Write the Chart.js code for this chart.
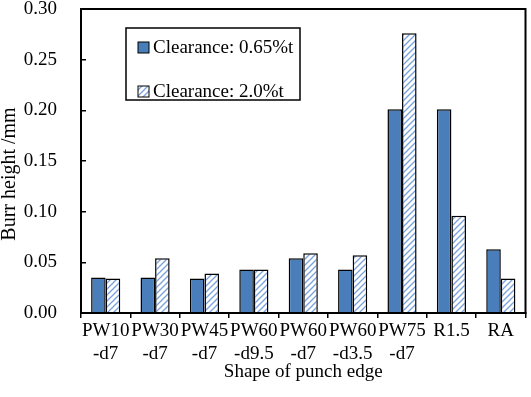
<!DOCTYPE html>
<html>
<head>
<meta charset="utf-8">
<script src="https://cdn.jsdelivr.net/npm/chart.js@4.4.1/dist/chart.umd.min.js"></script>
<style>
  html, body { margin: 0; padding: 0; background: #fff; }
  #wrap { width: 531px; height: 397px; }
</style>
</head>
<body>
<div id="wrap"><canvas id="burrChart" width="531" height="397"></canvas></div>
<script>
// Dữ liệu
const shapes = [
    ['PW10', '-d7'], ['PW30', '-d7'], ['PW45', '-d7'], ['PW60', '-d9.5'],
    ['PW60', '-d7'], ['PW60', '-d3.5'], ['PW75', '-d7'], 'R1.5', 'RA'
];
const clearance065 = [0.035, 0.035, 0.034, 0.043, 0.054, 0.043, 0.201, 0.201, 0.063];
const clearance20 = [0.034, 0.054, 0.039, 0.043, 0.059, 0.057, 0.276, 0.096, 0.034];
const seriesNames = ['Clearance: 0.65%t', 'Clearance: 2.0%t'];
const yTicks = [0, 0.05, 0.10, 0.15, 0.20, 0.25, 0.30];
const yTitle = 'Burr height /mm';
const xTitle = 'Shape of punch edge';

const FONT = 'Liberation Serif, Times New Roman, serif';

// Mẫu gạch chéo cho cột thứ hai
function makeHatch() {
    const c = document.createElement('canvas');
    c.width = 6; c.height = 6;
    const g = c.getContext('2d');
    g.fillStyle = '#ffffff';
    g.fillRect(0, 0, 6, 6);
    g.strokeStyle = '#78a0dc';
    g.lineWidth = 1.3;
    g.beginPath();
    g.moveTo(0, 6); g.lineTo(6, 0);
    g.moveTo(-1, 1); g.lineTo(1, -1);
    g.moveTo(5, 7); g.lineTo(7, 5);
    g.stroke();
    return g.createPattern(c, 'repeat');
}
const hatch = makeHatch();

// Khung bao, tiêu đề trục y và chú thích vẽ tay
const framePlugin = {
    id: 'frame',
    afterDraw(chart) {
        const { ctx, chartArea: a } = chart;
        ctx.save();
        ctx.strokeStyle = '#000';
        ctx.lineWidth = 2;
        ctx.strokeRect(a.left, a.top, a.right - a.left, a.bottom - a.top);

        // tiêu đề trục y
        ctx.save();
        ctx.translate(15, 174);
        ctx.rotate(-Math.PI / 2);
        ctx.font = '20px ' + FONT;
        ctx.fillStyle = '#000';
        ctx.textAlign = 'center';
        ctx.textBaseline = 'alphabetic';
        ctx.fillText(yTitle, 0, 0);
        ctx.restore();

        // hộp chú thích
        const bx = 126, by = 28, bw = 174, bh = 72;
        ctx.fillStyle = '#fff';
        ctx.fillRect(bx, by, bw, bh);
        ctx.lineWidth = 1.5;
        ctx.strokeRect(bx, by, bw, bh);
        ctx.font = '19px ' + FONT;
        ctx.textBaseline = 'middle';
        const rows = [47, 91];
        chart.data.datasets.forEach((ds, i) => {
            ctx.fillStyle = ds.backgroundColor;
            ctx.fillRect(138, rows[i] - 5, 11, 11);
            ctx.lineWidth = 1;
            ctx.strokeStyle = '#000';
            ctx.strokeRect(138, rows[i] - 5, 11, 11);
            ctx.fillStyle = '#000';
            ctx.fillText(ds.label, 153, rows[i] + 1);
        });
        ctx.restore();
    }
};

new Chart(document.getElementById('burrChart'), {
    type: 'bar',
    data: {
        labels: shapes,
        datasets: [
            {
                label: seriesNames[0],
                data: clearance065,
                backgroundColor: '#4a7ebb',
                borderColor: '#000',
                borderWidth: 1.5
            },
            {
                label: seriesNames[1],
                data: clearance20,
                backgroundColor: hatch,
                borderColor: '#000',
                borderWidth: 1.5
            }
        ]
    },
    options: {
        responsive: false,
        animation: false,
        devicePixelRatio: 1,
        categoryPercentage: 0.59,
        barPercentage: 1,
        layout: { padding: { top: 9, right: 5.5, left: 0, bottom: 0 } },
        plugins: {
            legend: { display: false },
            tooltip: { enabled: false }
        },
        scales: {
            x: {
                offset: true,
                grid: {
                    offset: true,
                    drawOnChartArea: false,
                    tickLength: 5,
                    color: '#000',
                    lineWidth: 1.5
                },
                border: { color: '#000', width: 2 },
                ticks: {
                    color: '#000',
                    font: { family: FONT, size: 19, lineHeight: 1.2 },
                    padding: 2,
                    maxRotation: 0,
                    autoSkip: false
                },
                title: {
                    display: true,
                    text: xTitle,
                    color: '#000',
                    font: { family: FONT, size: 19, lineHeight: 1.2 },
                    padding: { top: 0, bottom: 14 }
                },
                afterFit(s) { s.height = 84; }
            },
            y: {
                min: 0,
                max: 0.3,
                afterBuildTicks(s) { s.ticks = yTicks.map(v => ({ value: v })); },
                grid: {
                    drawOnChartArea: false,
                    tickLength: -5,
                    color: '#000',
                    lineWidth: 1.5
                },
                border: { color: '#000', width: 2 },
                ticks: {
                    color: '#000',
                    font: { family: FONT, size: 19 },
                    padding: 29,
                    callback: v => v.toFixed(2)
                },
                afterFit(s) {
                    s.width = 81;
                    s.paddingTop = 0;
                    s.paddingBottom = 0;
                }
            }
        }
    },
    plugins: [framePlugin]
});
</script>
</body>
</html>
